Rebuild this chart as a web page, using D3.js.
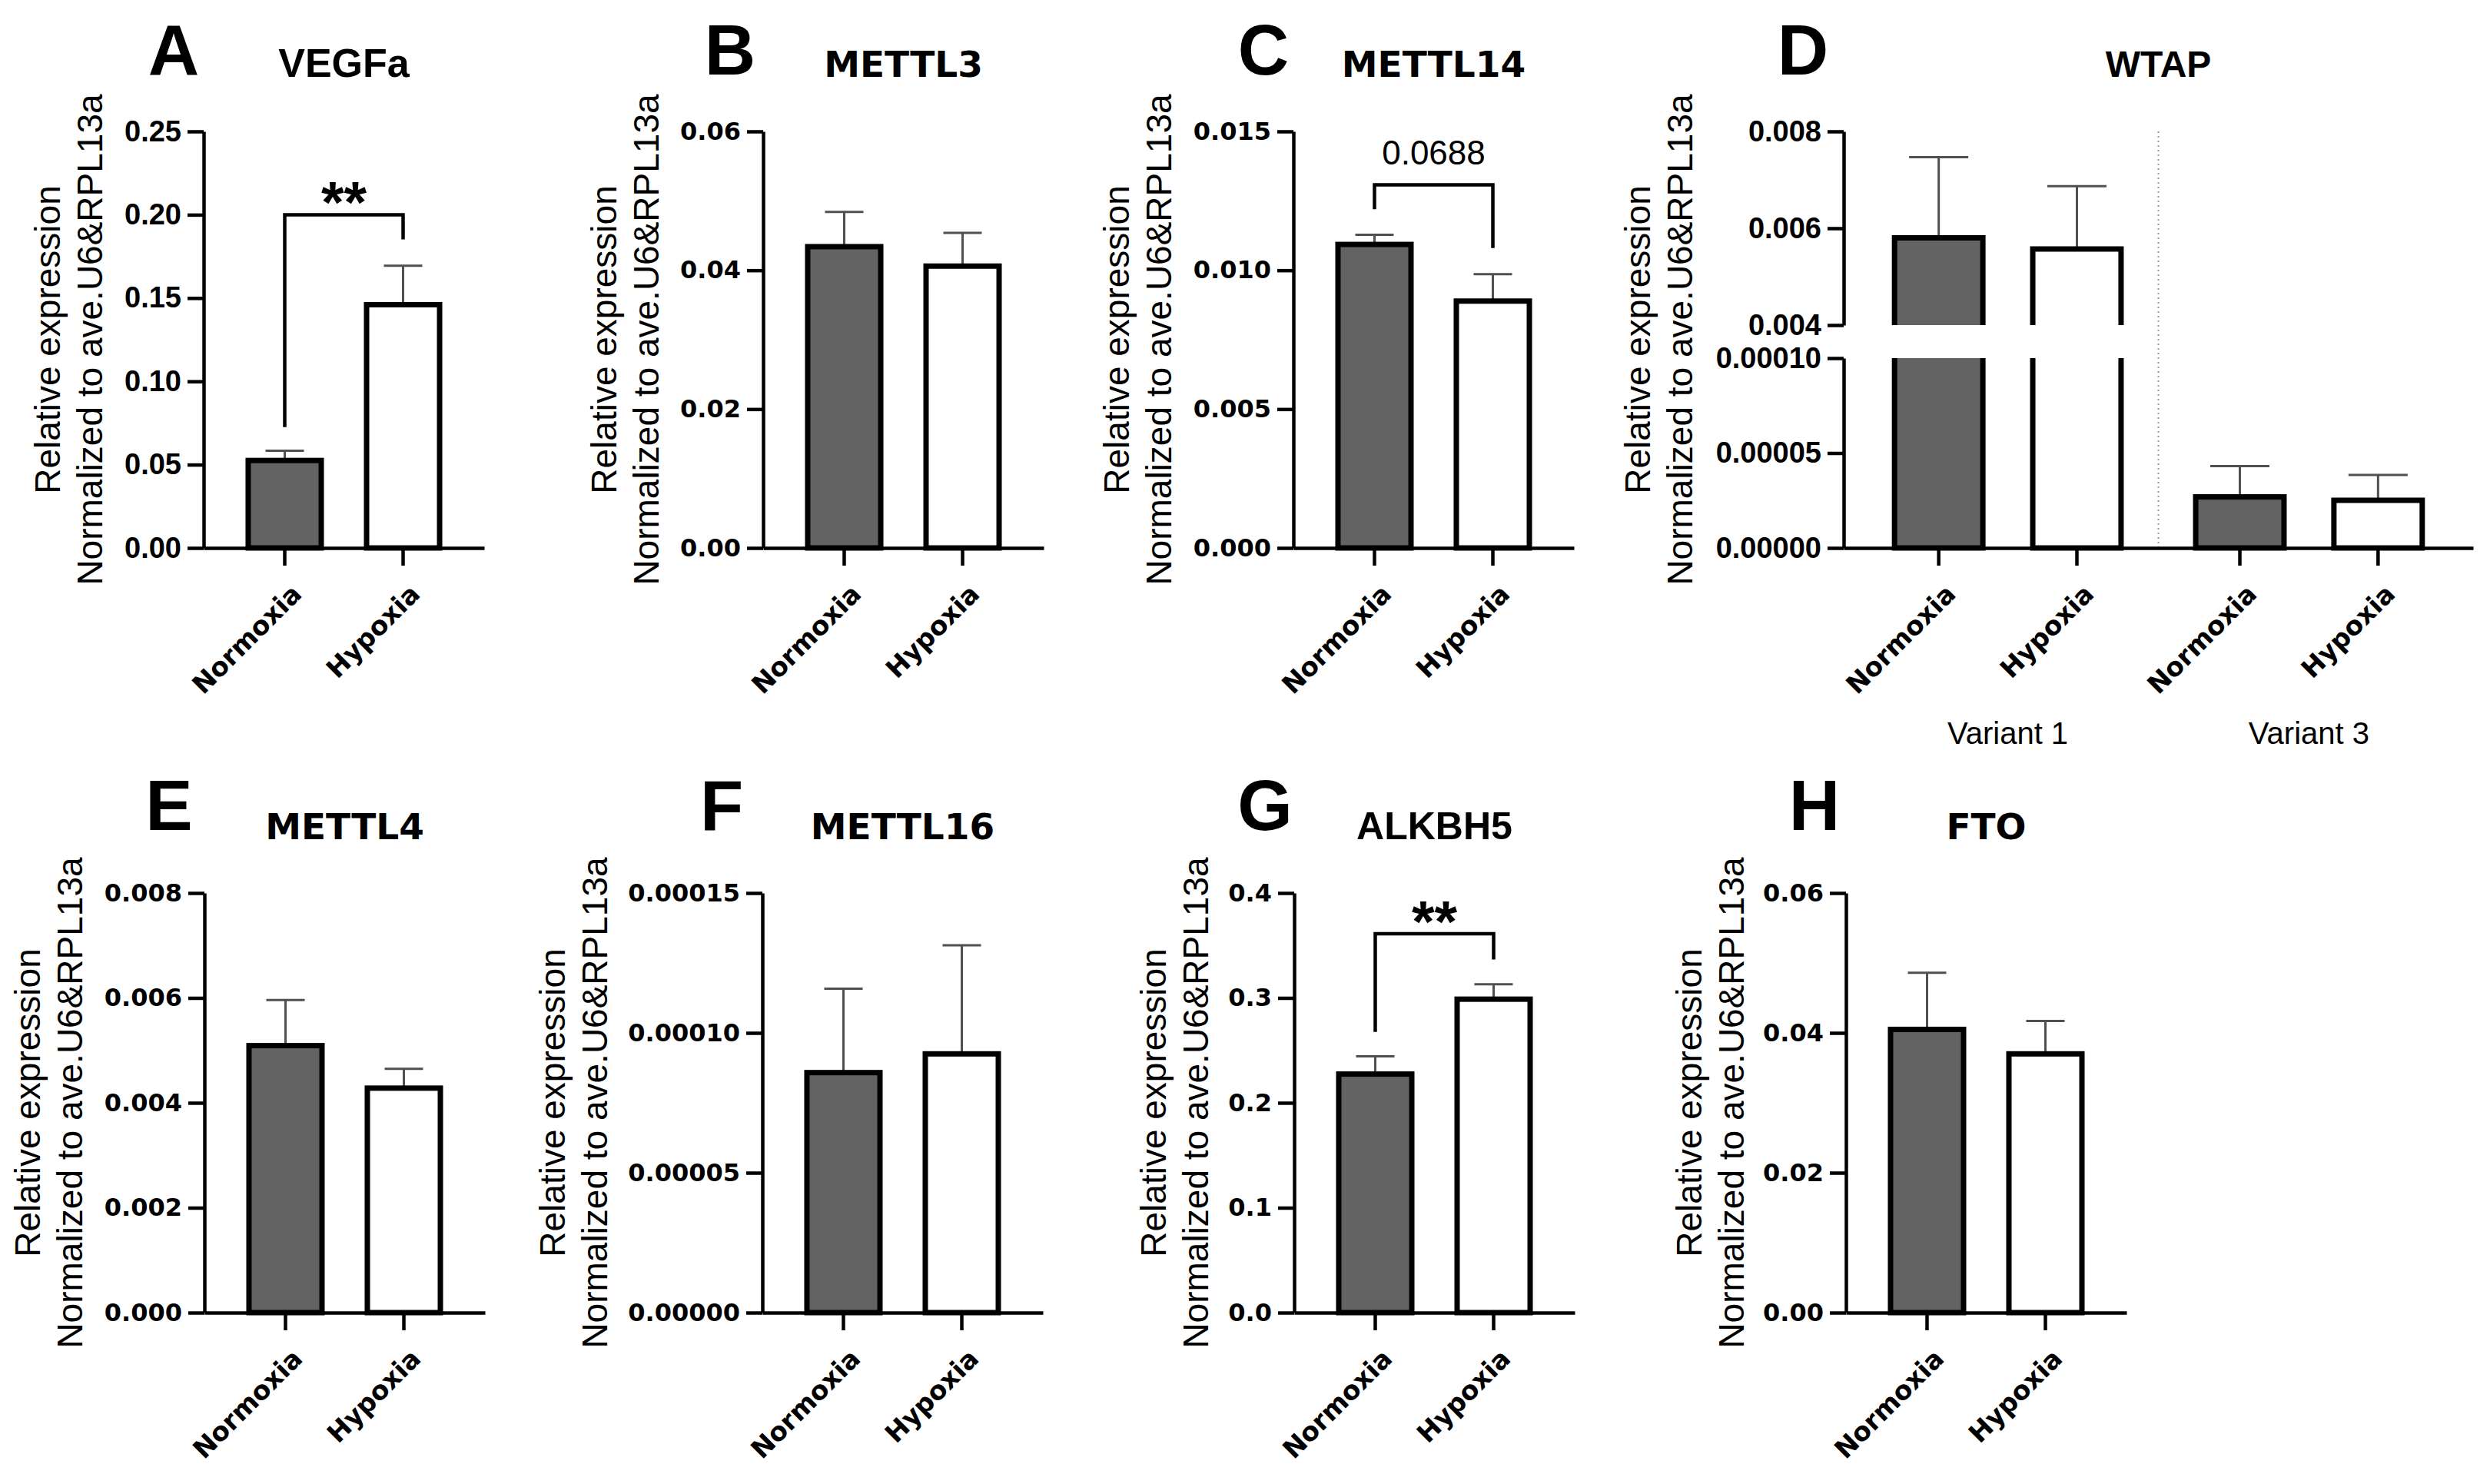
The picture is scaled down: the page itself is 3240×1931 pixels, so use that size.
<!DOCTYPE html>
<html>
<head>
<meta charset="utf-8">
<script src="https://cdn.jsdelivr.net/npm/d3@7"></script>
<style>
  body { margin: 0; background: #fff; }
  svg { display: block; }
</style>
</head>
<body>
<div id="chart"></div>
<script>
// ---- data ----
const conditions = ["Normoxia", "Hypoxia"];
const variants = ["Variant 1", "Variant 3"];

const vegfaMean = [0.0525, 0.146];
const vegfaSem = [0.0058, 0.0234];
const vegfaTicks = [0, 0.05, 0.10, 0.15, 0.20, 0.25];
const vegfaBracket = [0.0725, 0.20, 0.1852];

const mettl3Mean = [0.0434, 0.0406];
const mettl3Sem = [0.0050, 0.0048];
const mettl3Ticks = [0, 0.02, 0.04, 0.06];

const mettl14Mean = [0.01093, 0.00889];
const mettl14Sem = [0.00035, 0.00097];
const mettl14Ticks = [0, 0.005, 0.010, 0.015];
const mettl14Bracket = [0.0122, 0.01308, 0.0108];

const wtapV1Mean = [0.0058, 0.00557];
const wtapV1Sem = [0.00167, 0.0013];
const wtapV3Mean = [0.0000269, 0.0000251];
const wtapV3Sem = [0.0000162, 0.0000134];
const wtapTicksHigh = [0.004, 0.006, 0.008];
const wtapTicksLow = [0, 0.00005, 0.00010];

const mettl4Mean = [0.00509, 0.00428];
const mettl4Sem = [0.00087, 0.00037];
const mettl4Ticks = [0, 0.002, 0.004, 0.006, 0.008];

const mettl16Mean = [0.0000858, 0.0000925];
const mettl16Sem = [0.000030, 0.0000388];
const mettl16Ticks = [0, 0.00005, 0.00010, 0.00015];

const alkbh5Mean = [0.2274, 0.2988];
const alkbh5Sem = [0.017, 0.0142];
const alkbh5Ticks = [0, 0.1, 0.2, 0.3, 0.4];
const alkbh5Bracket = [0.2676, 0.3612, 0.3367];

const ftoMean = [0.0405, 0.0370];
const ftoSem = [0.0081, 0.0047];
const ftoTicks = [0, 0.02, 0.04, 0.06];

// ---- layout ----
const W = 3240, H = 1931;
const fills = ["#636363", "#ffffff"];
const row1 = { top: 171, bottom: 713, letterY: 97, titleY: 100 };
const row2 = { top: 1162, bottom: 1708, letterY: 1080, titleY: 1092 };
const wideFont = "DejaVu Sans", narrowFont = "Liberation Sans";

const panels = [
  { letter: "A", title: "VEGFa", row: row1, ax: 265, letterX: 226, mean: vegfaMean, sem: vegfaSem,
    ticks: vegfaTicks, fmt: ".2f", tickFont: narrowFont, titleFont: narrowFont, titleSize: 52, labOff: 148,
    bracket: vegfaBracket, sig: "**" },
  { letter: "B", title: "METTL3", row: row1, ax: 993, letterX: 950, mean: mettl3Mean, sem: mettl3Sem,
    ticks: mettl3Ticks, fmt: ".2f", tickFont: wideFont, titleFont: wideFont, titleSize: 47, labOff: 152 },
  { letter: "C", title: "METTL14", row: row1, ax: 1683, letterX: 1644, mean: mettl14Mean, sem: mettl14Sem,
    ticks: mettl14Ticks, fmt: ".3f", tickFont: wideFont, titleFont: wideFont, titleSize: 47, labOff: 175,
    bracket: mettl14Bracket, sig: "0.0688" },
  { letter: "E", title: "METTL4", row: row2, ax: 266, letterX: 220, mean: mettl4Mean, sem: mettl4Sem,
    ticks: mettl4Ticks, fmt: ".3f", tickFont: wideFont, titleFont: wideFont, titleSize: 47, labOff: 175 },
  { letter: "F", title: "METTL16", row: row2, ax: 992, letterX: 939, mean: mettl16Mean, sem: mettl16Sem,
    ticks: mettl16Ticks, fmt: ".5f", tickFont: wideFont, titleFont: wideFont, titleSize: 47, labOff: 218 },
  { letter: "G", title: "ALKBH5", row: row2, ax: 1684, letterX: 1646, mean: alkbh5Mean, sem: alkbh5Sem,
    ticks: alkbh5Ticks, fmt: ".1f", tickFont: wideFont, titleFont: narrowFont, titleSize: 50, labOff: 128,
    bracket: alkbh5Bracket, sig: "**" },
  { letter: "H", title: "FTO", row: row2, ax: 2402, letterX: 2361, mean: ftoMean, sem: ftoSem,
    ticks: ftoTicks, fmt: ".2f", tickFont: wideFont, titleFont: wideFont, titleSize: 47, labOff: 149 }
];

const svg = d3.select("#chart").append("svg")
    .attr("width", W)
    .attr("height", H);

svg.append("rect").attr("width", W).attr("height", H).attr("fill", "#fff");

panels.forEach(drawPanel);
drawWtap();

function tickFontSize(font) { return font === wideFont ? 32 : 38; }

function styleYAxis(g, font) {
    g.select(".domain").attr("stroke", "#000").attr("stroke-width", 4.5);
    g.selectAll(".tick line").attr("stroke", "#000").attr("stroke-width", 4.5);
    g.selectAll(".tick text")
        .attr("font-family", font)
        .attr("font-weight", "bold")
        .attr("font-size", tickFontSize(font))
        .attr("fill", "#000");
}

function styleXAxis(g) {
    g.select(".domain").attr("stroke", "#000").attr("stroke-width", 4.5);
    g.selectAll(".tick line").attr("stroke", "#000").attr("stroke-width", 4.5);
    g.selectAll(".tick text")
        .attr("x", 0).attr("y", 0).attr("dy", null)
        .attr("transform", "translate(24,62) rotate(-45)")
        .attr("text-anchor", "end")
        .attr("font-family", wideFont)
        .attr("font-weight", "bold")
        .attr("font-size", 34)
        .attr("fill", "#000");
}

function drawHeader(letter, letterX, title, titleX, titleFont, titleSize, row) {
    svg.append("text")
        .attr("x", letterX).attr("y", row.letterY)
        .attr("text-anchor", "middle")
        .attr("font-family", narrowFont).attr("font-weight", "bold").attr("font-size", 92)
        .text(letter);
    svg.append("text")
        .attr("x", titleX).attr("y", row.titleY)
        .attr("text-anchor", "middle")
        .attr("font-family", titleFont).attr("font-weight", "bold").attr("font-size", titleSize)
        .text(title);
}

function drawYLabel(ax, off, row) {
    let cy = (row.top + row.bottom) / 2;
    let lines = ["Relative expression", "Normalized to ave.U6&RPL13a"];
    lines.forEach((t, i) => {
        svg.append("text")
            .attr("transform", "translate(" + (ax - off - 55 + i * 55) + "," + cy + ") rotate(-90)")
            .attr("dy", "0.35em")
            .attr("text-anchor", "middle")
            .attr("font-family", narrowFont).attr("font-size", 46)
            .text(t);
    });
}

function errorBar(g, cx, yBase, yTop, cap) {
    g.append("line")
        .attr("x1", cx).attr("x2", cx)
        .attr("y1", yBase).attr("y2", yTop)
        .attr("stroke", "#505050").attr("stroke-width", 3);
    g.append("line")
        .attr("x1", cx - cap / 2).attr("x2", cx + cap / 2)
        .attr("y1", yTop).attr("y2", yTop)
        .attr("stroke", "#505050").attr("stroke-width", 3);
}

function drawPanel(p) {
    let xLen = 365;
    let g = svg.append("g").attr("transform", "translate(" + p.ax + ",0)");

    let x = d3.scaleBand()
        .domain(conditions)
        .range([0, xLen])
        .paddingInner(0.383)
        .paddingOuter(0.3765);
    let y = d3.scaleLinear()
        .domain([0, p.ticks[p.ticks.length - 1]])
        .range([p.row.bottom, p.row.top]);

    // error bars (upper only)
    conditions.forEach((c, i) => {
        let cx = x(c) + x.bandwidth() / 2;
        errorBar(g, cx, y(p.mean[i]), y(p.mean[i] + p.sem[i]), 50);
    });

    // bars
    g.selectAll(".bar")
        .data(conditions)
        .enter()
        .append("rect")
        .attr("class", "bar")
        .attr("x", d => x(d))
        .attr("width", x.bandwidth())
        .attr("y", (d, i) => y(p.mean[i]))
        .attr("height", (d, i) => y(0) - y(p.mean[i]))
        .attr("fill", (d, i) => fills[i])
        .attr("stroke", "#000")
        .attr("stroke-width", 7);

    // significance bracket
    if (p.bracket) {
        let xl = x(conditions[0]) + x.bandwidth() / 2;
        let xr = x(conditions[1]) + x.bandwidth() / 2;
        g.append("path")
            .attr("d", "M" + xl + "," + y(p.bracket[0]) + "V" + y(p.bracket[1]) +
                "H" + xr + "V" + y(p.bracket[2]))
            .attr("fill", "none")
            .attr("stroke", "#000")
            .attr("stroke-width", 4.5);
        let st = g.append("text")
            .attr("x", (xl + xr) / 2)
            .attr("text-anchor", "middle")
            .text(p.sig);
        if (p.sig === "**") {
            st.attr("y", y(p.bracket[1]) + 10)
                .attr("font-family", narrowFont).attr("font-weight", "bold").attr("font-size", 76);
        } else {
            st.attr("y", y(p.bracket[1]) - 26)
                .attr("font-family", narrowFont).attr("font-size", 44);
        }
    }

    // axes
    g.append("g")
        .call(d3.axisLeft(y).tickValues(p.ticks).tickFormat(d3.format(p.fmt))
            .tickSize(21).tickSizeOuter(0).tickPadding(8))
        .call(ax => styleYAxis(ax, p.tickFont));
    g.append("g")
        .attr("transform", "translate(0," + p.row.bottom + ")")
        .call(d3.axisBottom(x).tickSize(23).tickSizeOuter(0))
        .call(styleXAxis);

    drawHeader(p.letter, p.letterX, p.title, p.ax + xLen / 2, p.titleFont, p.titleSize, p.row);
    drawYLabel(p.ax, p.labOff, p.row);
}

function drawWtap() {
    let ax = 2399, xLen = 819, row = row1;
    let g = svg.append("g").attr("transform", "translate(" + ax + ",0)");

    let xv = d3.scaleBand().domain(variants).range([0, xLen]).paddingInner(0).paddingOuter(0.045);
    let xc = d3.scaleBand().domain(conditions).range([0, xv.bandwidth()]).paddingInner(0.361).paddingOuter(0.27);

    // broken y axis: low segment and high segment
    let breakLow = 466, breakHigh = 423;
    let yLo = d3.scaleLinear().domain([0, 0.0001]).range([row.bottom, breakLow]);
    let yHi = d3.scaleLinear().domain([0.004, 0.008]).range([breakHigh, row.top]);

    // dotted divider between the variants
    g.append("line")
        .attr("x1", xv(variants[1])).attr("x2", xv(variants[1]))
        .attr("y1", row.top).attr("y2", row.bottom)
        .attr("stroke", "#9a9a9a").attr("stroke-width", 2)
        .attr("stroke-dasharray", "2,4");

    let groups = [
        { v: variants[0], mean: wtapV1Mean, sem: wtapV1Sem },
        { v: variants[1], mean: wtapV3Mean, sem: wtapV3Sem }
    ];

    groups.forEach(gr => {
        conditions.forEach((c, i) => {
            let x0 = xv(gr.v) + xc(c), bw = xc.bandwidth(), x1 = x0 + bw, cx = x0 + bw / 2;
            let m = gr.mean[i], e = gr.sem[i];
            let broken = m > 0.0001;
            let ys = broken ? yHi : yLo;

            errorBar(g, cx, ys(m), ys(m + e), 77);

            if (broken) {
                // lower part, open at the top
                g.append("rect")
                    .attr("x", x0).attr("width", bw)
                    .attr("y", yLo(0.0001)).attr("height", yLo(0) - yLo(0.0001))
                    .attr("fill", fills[i]);
                g.append("path")
                    .attr("d", "M" + x0 + "," + yLo(0.0001) + "V" + yLo(0) + "H" + x1 + "V" + yLo(0.0001))
                    .attr("fill", "none").attr("stroke", "#000").attr("stroke-width", 7);
                // upper part, open at the bottom
                g.append("rect")
                    .attr("x", x0).attr("width", bw)
                    .attr("y", yHi(m)).attr("height", yHi(0.004) - yHi(m))
                    .attr("fill", fills[i]);
                g.append("path")
                    .attr("d", "M" + x0 + "," + yHi(0.004) + "V" + yHi(m) + "H" + x1 + "V" + yHi(0.004))
                    .attr("fill", "none").attr("stroke", "#000").attr("stroke-width", 7);
            } else {
                g.append("rect")
                    .attr("x", x0).attr("width", bw)
                    .attr("y", yLo(m)).attr("height", yLo(0) - yLo(m))
                    .attr("fill", fills[i])
                    .attr("stroke", "#000").attr("stroke-width", 7);
            }
        });
    });

    // axes
    g.append("g")
        .call(d3.axisLeft(yHi).tickValues(wtapTicksHigh).tickFormat(d3.format(".3f"))
            .tickSize(21).tickSizeOuter(0).tickPadding(8))
        .call(a => styleYAxis(a, narrowFont));
    g.append("g")
        .call(d3.axisLeft(yLo).tickValues(wtapTicksLow).tickFormat(d3.format(".5f"))
            .tickSize(21).tickSizeOuter(0).tickPadding(8))
        .call(a => styleYAxis(a, narrowFont));

    // x axis line
    g.append("g")
        .attr("transform", "translate(0," + row.bottom + ")")
        .call(d3.axisBottom(xv).tickValues([]).tickSizeOuter(0))
        .call(styleXAxis);

    variants.forEach(v => {
        g.append("g")
            .attr("transform", "translate(" + xv(v) + "," + row.bottom + ")")
            .call(d3.axisBottom(xc).tickSize(23).tickSizeOuter(0))
            .call(styleXAxis)
            .call(a => a.select(".domain").remove());
        g.append("text")
            .attr("x", xv(v) + xv.bandwidth() / 2)
            .attr("y", 968)
            .attr("text-anchor", "middle")
            .attr("font-family", narrowFont).attr("font-size", 40)
            .text(v);
    });

    drawHeader("D", 2346, "WTAP", ax + xLen / 2, narrowFont, 48, row);
    drawYLabel(ax, 213, row);
}
</script>
</body>
</html>
